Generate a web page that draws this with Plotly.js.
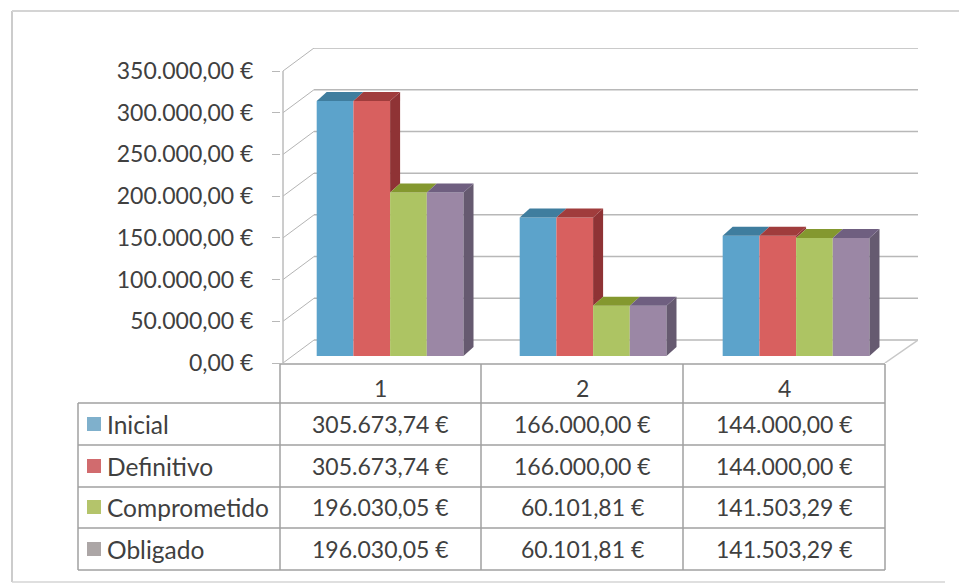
<!DOCTYPE html>
<html>
<head>
<meta charset="utf-8">
<script src="https://cdn.plot.ly/plotly-3.0.1.min.js"></script>
<style>html,body{margin:0;padding:0;background:#fff}#chart{width:959px;height:587px}</style>
</head>
<body>
<div id="chart"></div>
<script>
var categories = ['1', '2', '4'];
var seriesNames = ['Inicial', 'Definitivo', 'Comprometido', 'Obligado'];
var inicial = [305673.74, 166000.00, 144000.00];
var definitivo = [305673.74, 166000.00, 144000.00];
var comprometido = [196030.05, 60101.81, 141503.29];
var obligado = [196030.05, 60101.81, 141503.29];
var yTicks = [0, 50000, 100000, 150000, 200000, 250000, 300000, 350000];

var frontColors = ['#5ca3cb', '#d8605f', '#adc463', '#9b87a5'];
var topColors = ['#3f7d9e', '#a03c3c', '#84982f', '#6f5f80'];
var sideColors = ['#37688a', '#8f3335', '#71832c', '#665a70'];
var swatchColors = ['#7fb0cc', '#d16b6e', '#b4c46b', '#aca6a6'];

var series = [inicial, definitivo, comprometido, obligado];

// page geometry (pixels)
var L = 281, R = 918, T = 48, B = 363, W = 959, H = 587;
var colW = 201.3, pxPerUnit = 292 / 350000;
var xMax = (R - L) / colW, yMax = (B - T) / pxPerUnit;
var wallDx = 33 / colW, wallDy = 23 / pxPerUnit;   // depth of chart box
var barDx = 10 / colW, barDy = 9 / pxPerUnit;       // depth of each bar
var barBase = 7 / pxPerUnit;                        // bars stand in from the front edge
var barStart = 0.542, pitch = 1.0084, gap = 0.2768, barW = (1 - gap) * pitch / 4;

function px(x) { return (x - L) / (R - L); }
function py(y) { return (B - y) / (B - T); }
function fmt(v) {
  var s = v.toFixed(2).split('.');
  return s[0].replace(/\B(?=(\d{3})+$)/g, '.') + ',' + s[1] + ' €';
}

var traces = [];
var xPos = categories.map(function (c, i) { return barStart + i * pitch; });

series.forEach(function (vals, s) {
  traces.push({
    type: 'bar', name: seriesNames[s], x: xPos, y: vals,
    base: vals.map(function () { return barBase; }),
    marker: { color: frontColors[s], line: { width: 0 } },
    hoverinfo: 'y'
  });
});

function poly(xs, ys, color) {
  traces.push({
    type: 'scatter', mode: 'lines', x: xs.concat(xs[0]), y: ys.concat(ys[0]),
    fill: 'toself', fillcolor: color, line: { width: 0, color: color },
    hoverinfo: 'skip', showlegend: false
  });
}

categories.forEach(function (c, i) {
  series.forEach(function (vals, s) {
    var xl = xPos[i] - 2 * barW + s * barW, xr = xl + barW;
    var top = vals[i] + barBase;
    var next = s < 3 ? series[s + 1][i] + barBase : barBase;
    if (next < top) {
      poly([xr, xr + barDx, xr + barDx, xr], [top, top + barDy, next + barDy, next], sideColors[s]);
    }
    poly([xl, xl + barDx, xr + barDx, xr], [top, top + barDy, top + barDy, top], topColors[s]);
  });
});

var shapes = [];
function line(xref, yref, x0, y0, x1, y1, color, width, layer) {
  shapes.push({
    type: 'line', xref: xref, yref: yref, x0: x0, y0: y0, x1: x1, y1: y1,
    layer: layer || 'below', line: { color: color, width: width }
  });
}
// back wall gridlines and side wall diagonals
yTicks.forEach(function (v) {
  line('x', 'y', wallDx, v + wallDy, xMax, v + wallDy, '#b8b8b8', 1.5);
  line('x', 'y', 0.01, v, wallDx, v + wallDy, '#b4b4b4', 1);
});
line('x', 'y', 3, 0, xMax, wallDy, '#c8c8c8', 1.5);
line('x', 'y', 0.01, 0, 0.01, 350000, '#bcbcbc', 1.5);

// data table grid
var tableTop = 364, rows = [403, 445, 487, 528, 570];
var columns = [280, 481, 683, 885];
var tLeft = 78;
var gridColor = '#a0a0a0';
line('paper', 'paper', px(columns[0]), py(tableTop), px(columns[3]), py(tableTop), gridColor, 1.5, 'above');
rows.forEach(function (y) {
  line('paper', 'paper', px(tLeft), py(y), px(columns[3]), py(y), gridColor, 1.5, 'above');
});
columns.forEach(function (x) {
  line('paper', 'paper', px(x), py(tableTop), px(x), py(rows[4]), gridColor, 1.5, 'above');
});
line('paper', 'paper', px(tLeft), py(rows[0]), px(tLeft), py(rows[4]), gridColor, 1.5, 'above');

// page frame
line('paper', 'paper', px(12), py(11), px(12), py(582), '#cccccc', 2, 'above');
line('paper', 'paper', px(12), py(582), px(945), py(582), '#d4d4d4', 1.5, 'above');
line('paper', 'paper', px(12), py(11), px(959), py(11), '#d4d4d4', 2, 'above');

var annotations = [];
var textColor = '#404040';
function label(text, x, y, anchor, size) {
  annotations.push({
    xref: 'paper', yref: 'paper', x: px(x), y: py(y), text: text, showarrow: false,
    xanchor: anchor, yanchor: 'middle',
    font: { family: 'Lato, sans-serif', size: size, color: textColor }
  });
}
var rowCenters = [424, 466, 507, 549];
categories.forEach(function (c, i) {
  label(c, (columns[i] + columns[i + 1]) / 2, 388, 'center', 23);
});
seriesNames.forEach(function (name, s) {
  label(name, 105, rowCenters[s], 'left', 24.5);
  shapes.push({
    type: 'rect', xref: 'paper', yref: 'paper', layer: 'above',
    x0: px(87), x1: px(101), y0: py(rowCenters[s] + 7), y1: py(rowCenters[s] - 7),
    fillcolor: swatchColors[s], line: { width: 0 }
  });
  categories.forEach(function (c, i) {
    label(fmt(series[s][i]), (columns[i] + columns[i + 1]) / 2, rowCenters[s], 'center', 23);
  });
});

var layout = {
  width: W, height: H,
  margin: { l: L, r: W - R, t: T, b: H - B, pad: 0 },
  paper_bgcolor: '#ffffff', plot_bgcolor: '#ffffff',
  showlegend: false,
  barmode: 'group', bargap: gap, bargroupgap: 0,
  xaxis: {
    type: 'linear', range: [0, xMax], showgrid: false, zeroline: false,
    showticklabels: false, ticks: '', fixedrange: true
  },
  yaxis: {
    range: [0, yMax], tickmode: 'array', tickvals: yTicks, ticktext: yTicks.map(fmt),
    showgrid: false, zeroline: false, showline: false,
    ticks: 'outside', ticklen: 8, tickcolor: '#b8b8b8', tickwidth: 1, ticklabelstandoff: 14,
    tickfont: { family: 'Lato, sans-serif', size: 23, color: textColor }, fixedrange: true
  },
  shapes: shapes,
  annotations: annotations
};

Plotly.newPlot('chart', traces, layout, { staticPlot: true, displayModeBar: false });
</script>
</body>
</html>
